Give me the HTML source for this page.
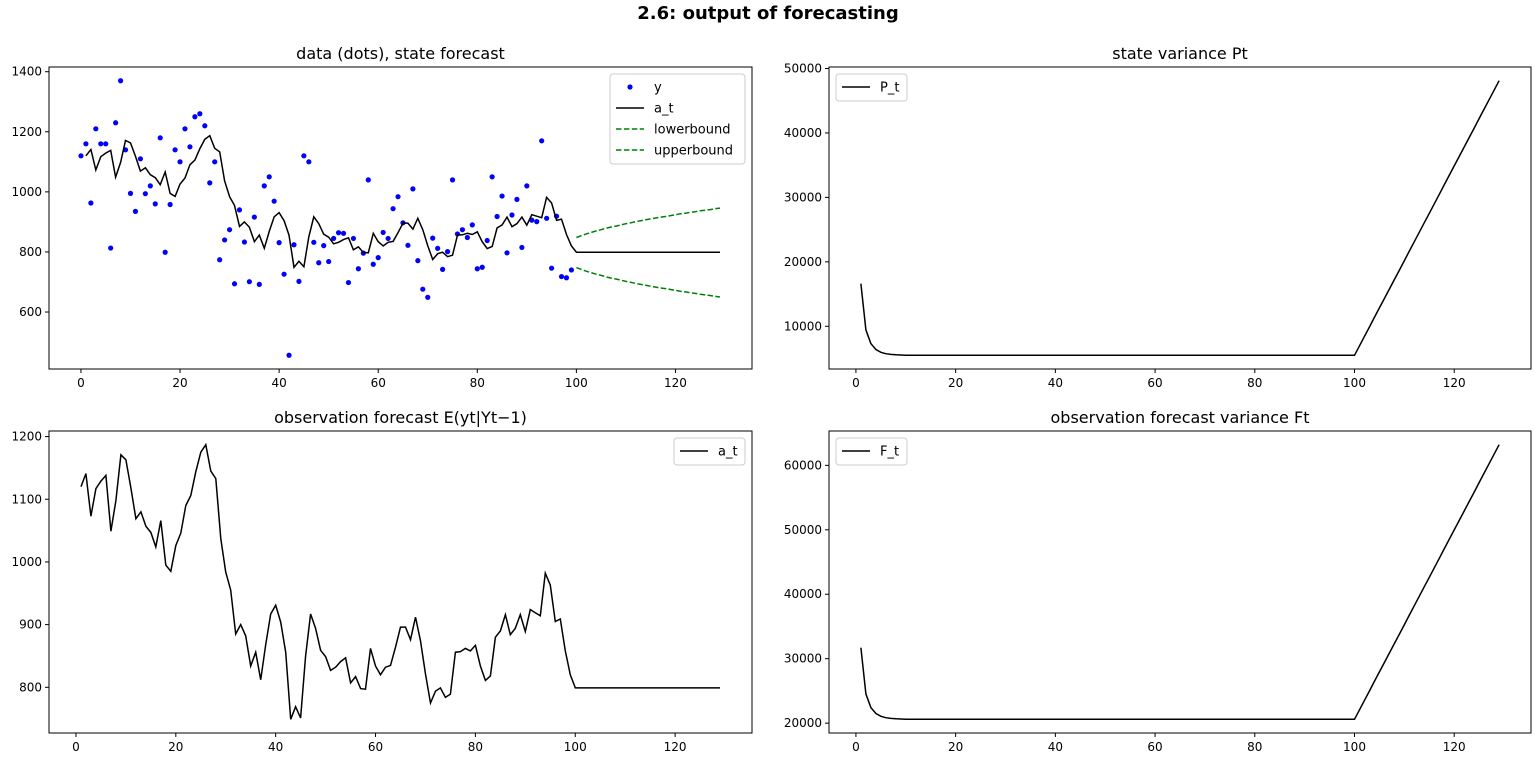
<!DOCTYPE html>
<html><head><meta charset="utf-8"><style>
html,body{margin:0;padding:0;background:#fff;}
svg{display:block;font-family:"DejaVu Sans","Liberation Sans",sans-serif;}
</style></head><body>
<svg id="fig" width="1536" height="761" viewBox="0 0 1536 761">
<text x="768" y="19" text-anchor="middle" font-size="18" font-weight="bold">2.6: output of forecasting</text>
</svg>
<script>
const yData=[1120,1160,963,1210,1160,1160,813,1230,1370,1140,995,935,1110,994,1020,960,1180,799,958,1140,1100,1210,1150,1250,1260,1220,1030,1100,774,840,874,694,940,833,701,916,692,1020,1050,969,831,726,456,824,702,1120,1100,832,764,821,768,845,864,862,698,845,744,796,1040,759,781,865,845,944,984,897,822,1010,771,676,649,846,812,742,801,1040,860,874,848,890,744,749,838,1050,918,986,797,923,975,815,1020,906,901,1170,912,746,919,718,714,740];
const aState=[1120,1141,1073,1117,1129,1138,1049,1098,1171,1163,1118,1069,1080,1057,1047,1024,1066,995,985,1026,1046,1090,1106,1144,1175,1187,1145,1133,1037,984,955,885,900,882,834,856,812,868,917,931,904,856,749,769,751,850,917,894,859,849,827,832,841,847,807,817,798,797,862,834,820,832,835,864,896,896,876,912,874,821,775,794,799,784,789,856,857,862,858,867,834,811,818,880,890,916,884,894,916,889,924,919,914,982,963,905,909,858,820,799,
799,799,799,799,799,799,799,799,799,799,799,799,799,799,799,799,799,799,799,799,799,799,799,799,799,799,799,799,799];
const upperBound=[848,854,860,865,870,874,879,883,886,890,894,897,901,904,907,910,913,916,918,921,924,927,929,932,934,937,939,941,944,946];
const lowerBound=[748,742,736,731,726,722,717,713,710,706,702,699,695,692,689,686,683,680,678,675,672,669,667,664,662,659,657,655,652,650];
const pVar=[16600,9437,7320,6400,5960,5750,5630,5570,5540,5520,
5501,5501,5501,5501,5501,5501,5501,5501,5501,5501,
5501,5501,5501,5501,5501,5501,5501,5501,5501,5501,
5501,5501,5501,5501,5501,5501,5501,5501,5501,5501,
5501,5501,5501,5501,5501,5501,5501,5501,5501,5501,
5501,5501,5501,5501,5501,5501,5501,5501,5501,5501,
5501,5501,5501,5501,5501,5501,5501,5501,5501,5501,
5501,5501,5501,5501,5501,5501,5501,5501,5501,5501,
5501,5501,5501,5501,5501,5501,5501,5501,5501,5501,
5501,5501,5501,5501,5501,5501,5501,5501,5501,5501,
6970,8439,9908,11377,12846,14315,15784,17253,18722,20191,21660,23129,24598,26067,27536,29005,30474,31943,33412,34881,36350,37819,39288,40757,42226,43695,45164,46633,48102];
const fVar=[31699,24536,22419,21499,21059,20849,20729,20669,20639,20619,
20600,20600,20600,20600,20600,20600,20600,20600,20600,20600,
20600,20600,20600,20600,20600,20600,20600,20600,20600,20600,
20600,20600,20600,20600,20600,20600,20600,20600,20600,20600,
20600,20600,20600,20600,20600,20600,20600,20600,20600,20600,
20600,20600,20600,20600,20600,20600,20600,20600,20600,20600,
20600,20600,20600,20600,20600,20600,20600,20600,20600,20600,
20600,20600,20600,20600,20600,20600,20600,20600,20600,20600,
20600,20600,20600,20600,20600,20600,20600,20600,20600,20600,
20600,20600,20600,20600,20600,20600,20600,20600,20600,20600,
22069,23538,25007,26476,27945,29414,30883,32352,33821,35290,36759,38228,39697,41166,42635,44104,45573,47042,48511,49980,51449,52918,54387,55856,57325,58794,60263,61732,63201];
const xTicks=[0,20,40,60,80,100,120];
const yTicksTL=[600,800,1000,1200,1400];
const yTicksTR=[10000,20000,30000,40000,50000];
const yTicksBL=[800,900,1000,1100,1200];
const yTicksBR=[20000,30000,40000,50000,60000];

const NS='http://www.w3.org/2000/svg';
const svg=document.getElementById('fig');
function mk(tag,attrs,parent){const e=document.createElementNS(NS,tag);for(const k in attrs)e.setAttribute(k,attrs[k]);(parent||svg).appendChild(e);return e;}

function makeAxes(box,xmin,xmax,ymin,ymax,title,name){
  const g=mk('g',{});
  
  
  const sx=v=>box.x+(v-xmin)/(xmax-xmin)*box.w;
  const sy=v=>box.y+box.h-(v-ymin)/(ymax-ymin)*box.h;
  const t=mk('text',{x:box.x+box.w/2,y:box.y-8,'text-anchor':'middle','font-size':'16'},g);
  t.textContent=title;
  
  
  return {g,sx,sy,box};
}
function frame(ax,xt,yt){
  const {g,sx,sy,box}=ax;
  xt.forEach(v=>{const x=sx(v);
    const l=mk('line',{x1:x,x2:x,y1:box.y+box.h,y2:box.y+box.h+4,stroke:'#000','stroke-width':1},g);
    
    
    const tx=mk('text',{x:x,y:box.y+box.h+18,'text-anchor':'middle','font-size':'12'},g);
    tx.textContent=v;
    
    });
  yt.forEach(v=>{const y=sy(v);
    const l=mk('line',{x1:box.x-4,x2:box.x,y1:y,y2:y,stroke:'#000','stroke-width':1},g);
    
    
    const tx=mk('text',{x:box.x-7,y:y+4,'text-anchor':'end','font-size':'12'},g);
    tx.textContent=v;
    
    });
  const r=mk('rect',{x:box.x,y:box.y,width:box.w,height:box.h,fill:'none',stroke:'#000','stroke-width':1},g);
  
  
}
function line(ax,xs,ys,color,dash,name){
  const pts=ys.map((v,i)=>ax.sx(xs[i]).toFixed(1)+','+ax.sy(v).toFixed(1)).join(' ');
  const p=mk('polyline',{points:pts,fill:'none',stroke:color,'stroke-width':1.5,'stroke-dasharray':dash||'none'},ax.g);
  
  
}
function legend(ax,x,y,w,entries,name){
  const g=mk('g',{},ax.g);
  
  
  mk('rect',{x:x,y:y,width:w,height:entries.length*21+6,rx:3,fill:'#fff',stroke:'#ccc','stroke-width':1},g);
  entries.forEach((e,i)=>{const cy=y+13+i*21;
    if(e.type==='dot'){const c=mk('circle',{cx:x+20,cy:cy,r:2.6,fill:e.color},g);
      
      }
    else{const l=mk('line',{x1:x+6,x2:x+34,y1:cy,y2:cy,stroke:e.color,'stroke-width':1.5,'stroke-dasharray':e.dash||'none'},g);
      
      }
    const t=mk('text',{x:x+44,y:cy+4.5,'font-size':'13'},g);
    t.textContent=e.label;
    
    });
}
const idx1=aState.map((_,i)=>i+1);
const idx0=yData.map((_,i)=>i);
const idxF=upperBound.map((_,i)=>i+100);
const pad=(lo,hi)=>[lo-(hi-lo)*0.05,hi+(hi-lo)*0.05];

// top-left
let yl=pad(Math.min(...yData),Math.max(...yData));
const tl=makeAxes({x:49,y:67,w:703,h:302},-6.45,135.45,yl[0],yl[1],'data (dots), state forecast','axes-data-state-forecast');
frame(tl,xTicks,yTicksTL);
yData.forEach((v,i)=>{const c=mk('circle',{cx:tl.sx(idx0[i]),cy:tl.sy(v),r:2.6,fill:'#0000ff'},tl.g);
  
  });
line(tl,idx1,aState,'#000',null,'state-forecast-line');
line(tl,idxF,lowerBound,'#008000','5.5,2.4','lowerbound-line');
line(tl,idxF,upperBound,'#008000','5.5,2.4','upperbound-line');
legend(tl,610,74,135,[{type:'dot',color:'#0000ff',label:'y'},{type:'line',color:'#000',label:'a_t'},{type:'line',color:'#008000',dash:'5.5,2.4',label:'lowerbound'},{type:'line',color:'#008000',dash:'5.5,2.4',label:'upperbound'}],'legend-state-forecast');

// top-right
yl=pad(Math.min(...pVar),Math.max(...pVar));
const tr=makeAxes({x:829,y:67,w:702,h:302},-5.4,135.4,yl[0],yl[1],'state variance Pt','axes-state-variance');
frame(tr,xTicks,yTicksTR);
line(tr,idx1,pVar,'#000',null,'state-variance-line');
legend(tr,836,74,71,[{type:'line',color:'#000',label:'P_t'}],'legend-state-variance');

// bottom-left
yl=pad(Math.min(...aState),Math.max(...aState));
const bl=makeAxes({x:49,y:431,w:703,h:302},-5.4,135.4,yl[0],yl[1],'observation forecast E(yt|Yt\u22121)','axes-observation-forecast');
frame(bl,xTicks,yTicksBL);
line(bl,idx1,aState,'#000',null,'observation-forecast-line');
legend(bl,674,438,71,[{type:'line',color:'#000',label:'a_t'}],'legend-observation-forecast');

// bottom-right
yl=pad(Math.min(...fVar),Math.max(...fVar));
const br=makeAxes({x:829,y:431,w:702,h:302},-5.4,135.4,yl[0],yl[1],'observation forecast variance Ft','axes-observation-variance');
frame(br,xTicks,yTicksBR);
line(br,idx1,fVar,'#000',null,'observation-variance-line');
legend(br,836,438,71,[{type:'line',color:'#000',label:'F_t'}],'legend-observation-variance');
</script>
</body></html>
